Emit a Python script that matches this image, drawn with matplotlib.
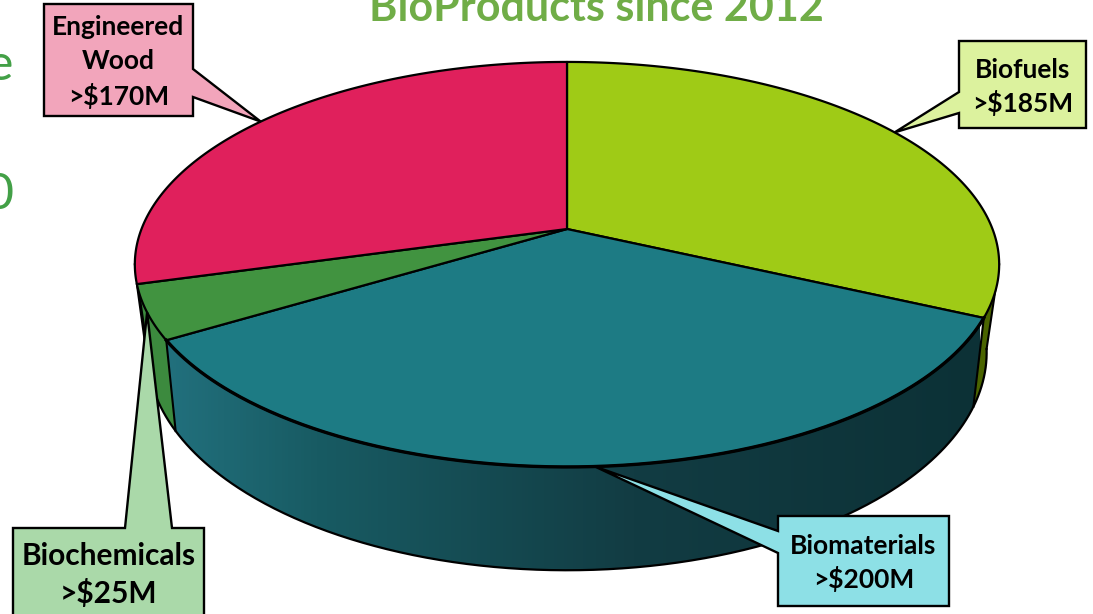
import numpy as np
import matplotlib
matplotlib.use("Agg")
import matplotlib.pyplot as plt
from matplotlib.patches import Polygon
from matplotlib.colors import LinearSegmentedColormap

plt.rcParams['font.family'] = ['Lato', 'DejaVu Sans']

# values in $M, clockwise from 12 o'clock
names = ["Biofuels", "Biomaterials", "Biochemicals", "Engineered\nWood"]
values = [185, 200, 25, 170]
top_colors = ["#9fcb16", "#1d7b84", "#419340", "#e0205c"]
wall_colors = ["#4a6400", "#1d7b84", "#3c8a3e", "#8a1238"]
box_colors = ["#dcf29e", "#8de0e6", "#aad9a9", "#f2a5bb"]
title = "BioProducts since 2012"

# pie projection, in pixels
cx, cy = 567, 229
a_top, b_top, k_top = 425.5, 196.3, 0.175
a_bot, b_bot, k_bot, cy_bot = 412, 210, 0.19, 311


def rim(theta, a, b, k, yc):
    th = np.radians(theta)
    u, v = np.sin(th), np.cos(th)
    d = 1 + k * v
    return cx + a * u / d, yc - b * v / d


def top_rim(theta):
    return rim(theta, a_top, b_top, k_top, cy)


def bot_rim(theta):
    return rim(theta, a_bot, b_bot, k_bot, cy_bot)


fig = plt.figure(figsize=(10.93, 6.14), dpi=100)
ax = fig.add_axes([0, 0, 1, 1])

edges = np.concatenate([[0], np.cumsum(values)]) / np.sum(values) * 360
mids = (edges[:-1] + edges[1:]) / 2

# side of the biggest slice fades to dark going right
shade = LinearSegmentedColormap.from_list(
    "wall", [(0, "#22717e"), (0.19, "#185b63"), (0.58, "#123c43"), (1, "#0c3136")])

# walls, only the front half shows
side_a = np.degrees(np.arccos(-k_top))
side_b = 360 - side_a
for i in range(len(values)):
    t0, t1 = max(edges[i], side_a), min(edges[i + 1], side_b)
    if t1 <= t0:
        continue
    th = np.linspace(t0, t1, 200)
    xa, ya = top_rim(th)
    xb, yb = bot_rim(th[::-1])
    pts = np.column_stack([np.concatenate([xa, xb]), np.concatenate([ya, yb])])
    if i == 1:
        poly = Polygon(pts, closed=True, facecolor="none", edgecolor="none", zorder=2)
        ax.add_patch(poly)
        grad = np.linspace(0, 1, 256).reshape(1, -1)
        im = ax.imshow(grad, cmap=shade, extent=(160, 980, 614, 0), aspect="auto", zorder=2)
        im.set_clip_path(poly)
    else:
        ax.add_patch(Polygon(pts, closed=True, facecolor=wall_colors[i],
                             edgecolor="none", zorder=2))

ax.set_xlim(0, 1093)
ax.set_ylim(614, 0)
ax.axis("off")

# wall outlines
th = np.linspace(side_a, side_b, 400)
ax.plot(*bot_rim(th), color="black", lw=1.6, zorder=3)
for t in [side_a, side_b] + [e for e in edges[1:-1] if side_a < e < side_b]:
    xa, ya = top_rim(t)
    xb, yb = bot_rim(t)
    ax.plot([xa, xb], [ya, yb], color="black", lw=1.5, zorder=3)

# top face
for i in range(len(values)):
    th = np.linspace(edges[i], edges[i + 1], 200)
    xs, ys = top_rim(th)
    pts = np.column_stack([np.append(xs, cx), np.append(ys, cy)])
    ax.add_patch(Polygon(pts, closed=True, facecolor=top_colors[i], edgecolor="black",
                         lw=1.6, joinstyle="round", zorder=4))
th = np.linspace(edges[1], edges[2], 300)
ax.plot(*top_rim(th), color="black", lw=2.4, zorder=5)


def callout(i, box, side, base, text, size, ty, spacing=1.4):
    left, top, right, bottom = box
    tip = top_rim(mids[i])
    b0, b1 = base
    if side == "left":
        pts = [(left, top), (right, top), (right, bottom), (left, bottom),
               (left, b1), tip, (left, b0)]
    elif side == "right":
        pts = [(left, top), (right, top), (right, b0), tip, (right, b1),
               (right, bottom), (left, bottom)]
    else:
        pts = [(left, top), (b0, top), tip, (b1, top), (right, top),
               (right, bottom), (left, bottom)]
    ax.add_patch(Polygon(pts, closed=True, facecolor=box_colors[i], edgecolor="black",
                         lw=1.7, joinstyle="miter", zorder=6))
    ax.text((left + right) / 2, ty, text, ha="center", va="center", fontsize=size,
            fontweight="bold", color="black", linespacing=spacing, zorder=7)


callout(0, (959, 41, 1086, 128), "left", (92, 113), "Biofuels\n>$185M", 19, 87)
callout(1, (778, 516, 949, 606), "left", (531, 553), "Biomaterials\n>$200M", 19, 563)
callout(2, (13, 528, 204, 630), "top", (125, 172), "Biochemicals\n>$25M", 21.5, 575)
callout(3, (44, 4, 193, 116), "right", (69, 97), "Engineered\nWood\n>$170M", 19, 62, 1.48)

# title and slide text cut off by the crop
ax.text(596, 21, title, ha="center", va="baseline", fontsize=31, fontweight="bold",
        color="#70ad47", zorder=1)
ax.text(13, 80, "e", ha="right", va="baseline", fontsize=36, color="#43a047", zorder=1)
ax.text(13, 209, "0", ha="right", va="baseline", fontsize=36, color="#43a047", zorder=1)

fig.savefig("out.png", dpi=100)
